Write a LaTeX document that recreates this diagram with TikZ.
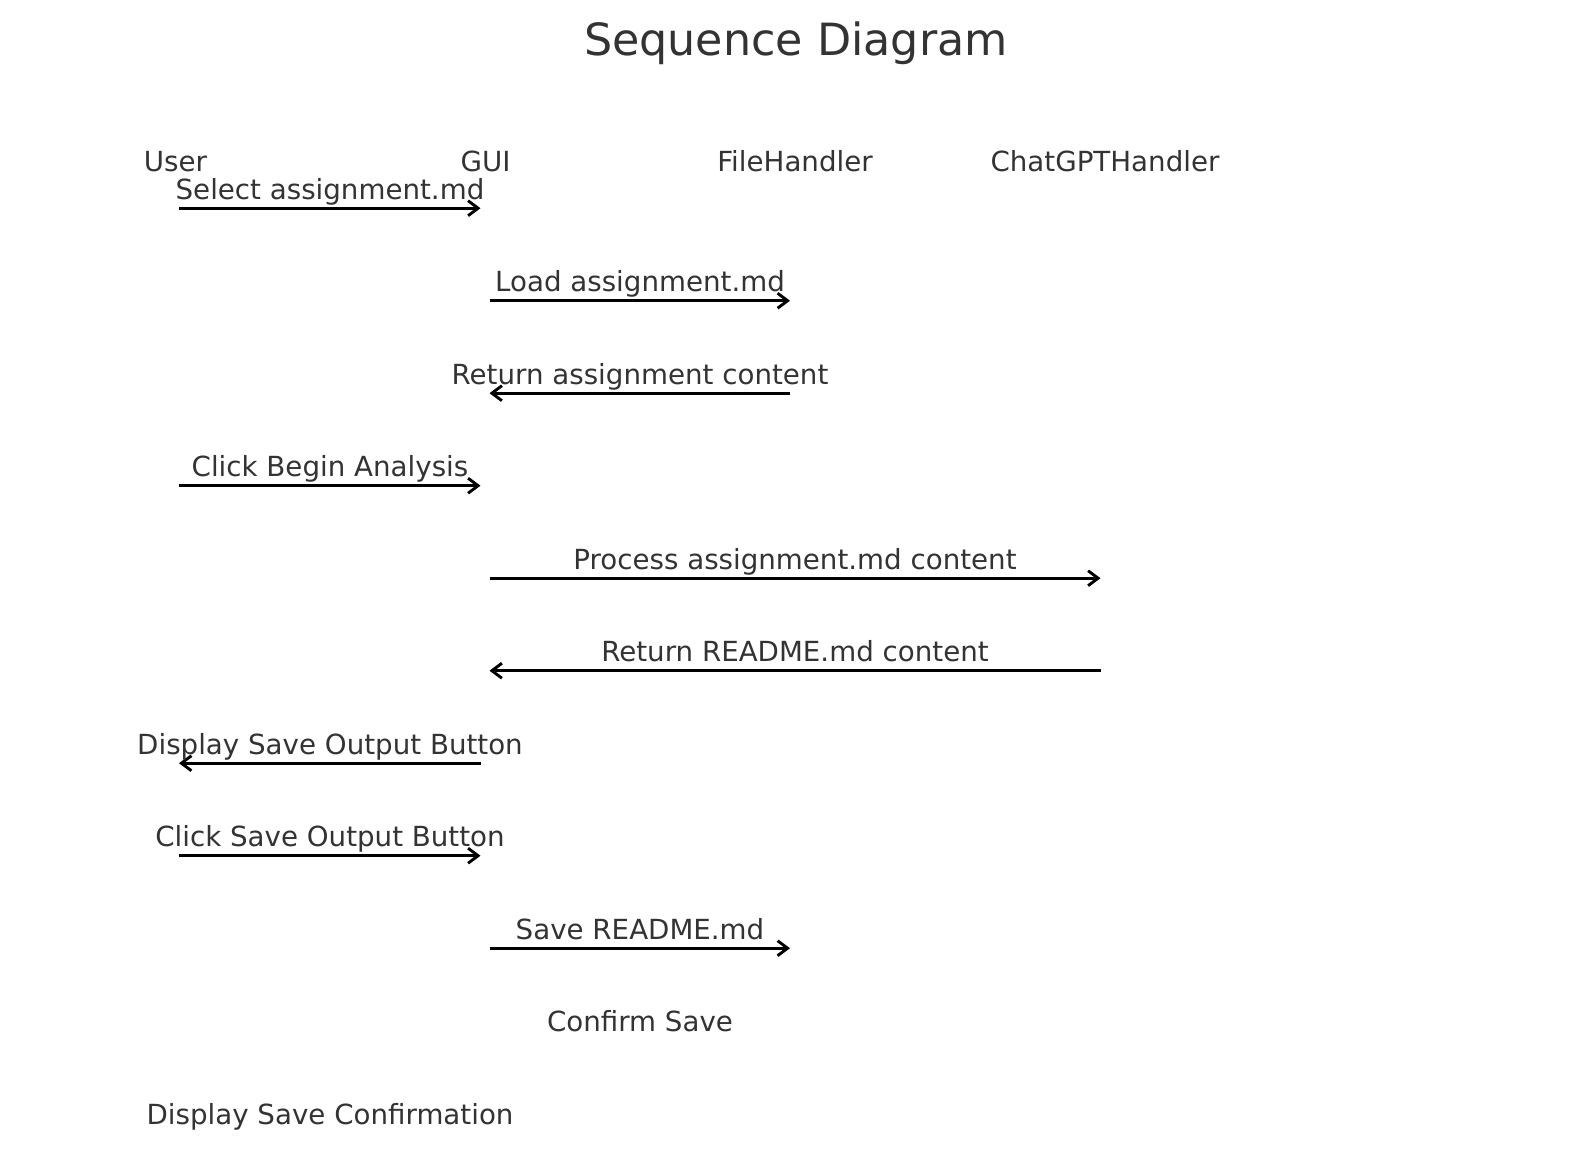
\documentclass[tikz,border=0pt]{standalone}
\usepackage{fontspec}
\setmainfont{DejaVu Sans}
\usetikzlibrary{arrows.meta}
\definecolor{txt}{HTML}{333333}
\begin{document}
\begin{tikzpicture}[x=1pt,y=-1pt,
  lbl/.style={font=\fontsize{27.7}{33}\selectfont, text=txt, inner sep=0pt, anchor=base},
  ttl/.style={font=\fontsize{44.4}{54}\selectfont, text=txt, inner sep=0pt, anchor=base},
  msg/.style={line width=2.9pt, draw=black, -{Straight Barb[length=10pt,width=15pt,line width=2.9pt]}}]
\useasboundingbox (0,0) rectangle (1589,1148);
% title
\node[ttl] (title) at (796,56) {Sequence Diagram};
% participants
\node[lbl] (user) at (175.5,171) {User};
\node[lbl] (gui) at (485.5,171) {GUI};
\node[lbl] (fh) at (795,171) {FileHandler};
\node[lbl] (cg) at (1105,171) {ChatGPTHandler};
% message end points
\coordinate (u0) at (179,208.2);   \coordinate (g0) at (480.5,208.2);
\coordinate (g1) at (489.5,300.7); \coordinate (f1) at (790,300.7);
\coordinate (f2) at (790,393.2);   \coordinate (g2) at (489.5,393.2);
\coordinate (u3) at (179,485.7);   \coordinate (g3) at (480.5,485.7);
\coordinate (g4) at (489.5,578.2); \coordinate (c4) at (1100.5,578.2);
\coordinate (c5) at (1100.5,670.7);\coordinate (g5) at (489.5,670.7);
\coordinate (g6) at (480.5,763.2); \coordinate (u6) at (179,763.2);
\coordinate (u7) at (179,855.7);   \coordinate (g7) at (480.5,855.7);
\coordinate (g8) at (489.5,948.2); \coordinate (f8) at (790,948.2);
% messages
\draw[msg] (u0) -- (g0);
\draw[msg] (g1) -- (f1);
\draw[msg] (f2) -- (g2);
\draw[msg] (u3) -- (g3);
\draw[msg] (g4) -- (c4);
\draw[msg] (c5) -- (g5);
\draw[msg] (g6) -- (u6);
\draw[msg] (u7) -- (g7);
\draw[msg] (g8) -- (f8);
% labels
\node[lbl] (l0) at (330,199.2) {Select assignment.md};
\node[lbl] (l1) at (640,291.7) {Load assignment.md};
\node[lbl] (l2) at (640,384.2) {Return assignment content};
\node[lbl] (l3) at (330,476.7) {Click Begin Analysis};
\node[lbl] (l4) at (795,569.2) {Process assignment.md content};
\node[lbl] (l5) at (795,661.7) {Return README.md content};
\node[lbl] (l6) at (330,754.2) {Display Save Output Button};
\node[lbl] (l7) at (330,846.7) {Click Save Output Button};
\node[lbl] (l8) at (640,939.2) {Save README.md};
\node[lbl] (l9) at (640,1031.7) {Confirm Save};
\node[lbl] (l10) at (330,1124.2) {Display Save Confirmation};
\end{tikzpicture}
\end{document}
